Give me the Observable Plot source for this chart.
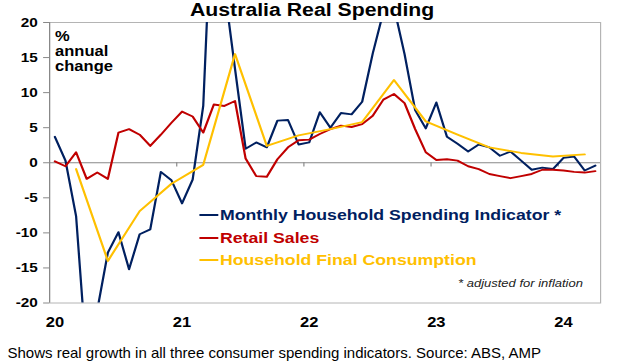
<!DOCTYPE html>
<html><head><meta charset="utf-8">
<script src="https://cdn.jsdelivr.net/npm/d3@7"></script>
<script src="https://cdn.jsdelivr.net/npm/@observablehq/plot@0.6"></script>
<style>
html,body{margin:0;padding:0;background:#fff;}
#page{position:relative;width:619px;height:364px;overflow:hidden;font-family:"Liberation Sans",Arial,sans-serif;}
#chart{position:absolute;left:0;top:0;width:525px;height:364px;transform:scaleX(1.18);transform-origin:0 0;}
#plot svg{position:absolute;left:0;top:0;}
.ov{position:absolute;white-space:nowrap;}
#title{left:0;width:529px;top:1px;text-align:center;font-weight:bold;font-size:18px;line-height:18px;color:#000;}
#ylab{left:46.7px;top:28.7px;font-weight:bold;font-size:14px;line-height:15px;color:#000;}
.row{position:absolute;left:168.6px;display:flex;align-items:center;font-weight:bold;font-size:15px;line-height:15px;white-space:nowrap;}
.sw{width:16.1px;height:2px;margin-right:1.7px;}
#foot{left:0;width:494px;top:278.4px;text-align:right;font-style:italic;font-size:11px;line-height:11px;color:#222;}
#caption{position:absolute;left:7.5px;top:345px;font-size:15px;line-height:15px;color:#000;white-space:nowrap;}
</style></head>
<body>
<div id="page">
  <div id="chart">
    <div id="plot"></div>
    <div id="title" class="ov"></div>
    <div id="ylab" class="ov"></div>
    <div id="legend"></div>
    <div id="foot" class="ov"></div>
  </div>
  <div id="caption"></div>
</div>
<script>
// Monthly series, Jan 2020 (index 0) to Apr 2024 (index 51)
const spending = [3.7, 0.3, -7.6, -28, -21, -12.8, -9.9, -15.2, -10.2, -9.5, -1.3, -2.5,
  -5.8, -2.4, 8.1, 43, 25, 13.4, 2.0, 2.9, 2.2, 6.0, 6.1, 2.6,
  2.9, 7.2, 5.0, 7.1, 6.9, 8.7, 15.6, 21.5, 22.2, 15.5, 7.5, 4.9,
  8.6, 3.7, 2.7, 1.6, 2.6, 2.2, 1.0, 1.6, 0.3, -1.0, -0.7, -0.9,
  0.7, 0.9, -1.1, -0.4];
const retail = [0.2, -0.5, 1.5, -2.3, -1.4, -2.3, 4.3, 4.8, 4.0, 2.4, 4.0, 5.7,
  7.3, 6.6, 4.3, 8.3, 8.1, 8.8, 0.6, -1.9, -2.0, 0.5, 2.2, 3.2,
  3.3, 4.1, 4.8, 5.3, 5.1, 5.5, 6.7, 9.0, 9.8, 8.5, 4.8, 1.5,
  0.4, 0.5, 0.3, -0.5, -0.9, -1.6, -1.9, -2.2, -1.9, -1.6, -1.0, -1.0,
  -1.1, -1.3, -1.4, -1.2];
// Quarterly series (quarter-end month index)
const hfceMonths = [2, 5, 8, 11, 14, 17, 20, 23, 26, 29, 32, 35, 38, 41, 44, 47, 50];
const hfce = [-0.9, -14.0, -6.9, -3.0, -0.3, 15.5, 2.4, 3.9, 4.8, 5.8, 11.8, 5.9, 4.0, 2.2, 1.4, 0.9, 1.2];

const yTicks = [-20, -15, -10, -5, 0, 5, 10, 15, 20];
const yearTickMonths = [0, 12, 24, 36, 48];
const yearLabels = ["20", "21", "22", "23", "24"];
const yearBoundaries = [11.5, 23.5, 35.5, 47.5];
const seriesNames = ["Monthly Household Spending Indicator *", "Retail Sales", "Household Final Consumption"];
const seriesColors = ["#002060", "#C00000", "#FFC000"];
const titleText = "Australia Real Spending";
const yLabelLines = ["%", "annual", "change"];
const footText = "* adjusted for inflation";
const captionText = "Shows real growth in all three consumer spending indicators. Source: ABS, AMP";

const S = 1.18, W = 525, H = 364;
const monthlySpend = spending.map((v, i) => ({m: i, v}));
const monthlyRetail = retail.map((v, i) => ({m: i, v}));
const quarterly = hfce.map((v, i) => ({m: hfceMonths[i], v}));

const chart = Plot.plot({
  width: W, height: H,
  marginLeft: 49 / S, marginRight: W - 600 / S, marginTop: 22, marginBottom: H - 302.5,
  x: {domain: [-0.5, 51.5], label: null},
  y: {domain: [-20, 20], label: null},
  style: {fontFamily: "'Liberation Sans', Arial, sans-serif", background: "transparent", color: "#000"},
  marks: [
    Plot.frame({stroke: "#b4b4b4"}),
    Plot.ruleY([0], {stroke: "#888"}),
    Plot.ruleX(yearBoundaries, {x: d => d, y1: 0, y2: -0.6, stroke: "#888"}),
    Plot.ruleX([-0.5], {stroke: "#888"}),
    Plot.axisY({ticks: yTicks, label: null, tickSize: 5, tickPadding: 5, tickFormat: d => String(d), fontSize: 13, fontWeight: "bold", stroke: "#888", fill: "#000"}),
    Plot.axisX({ticks: yearTickMonths, label: null, tickFormat: d => yearLabels[yearTickMonths.indexOf(d)], tickSize: 0, tickPadding: 14, fontSize: 14, fontWeight: "bold", fill: "#000"}),
    Plot.line(monthlySpend, {x: "m", y: "v", stroke: seriesColors[0], strokeWidth: 1.9, clip: true}),
    Plot.line(monthlyRetail, {x: "m", y: "v", stroke: seriesColors[1], strokeWidth: 1.9, clip: true}),
    Plot.line(quarterly, {x: "m", y: "v", stroke: seriesColors[2], strokeWidth: 1.9, clip: true})
  ]
});
document.getElementById("plot").append(chart);

document.getElementById("title").textContent = titleText;
document.getElementById("ylab").innerHTML = yLabelLines.join("<br>");
document.getElementById("foot").textContent = footText;
document.getElementById("caption").textContent = captionText;
const legendTops = [207, 230, 252];
const legend = document.getElementById("legend");
seriesNames.forEach((name, i) => {
  const row = document.createElement("div");
  row.className = "row";
  row.style.top = legendTops[i] + "px";
  row.style.color = seriesColors[i];
  const sw = document.createElement("span");
  sw.className = "sw";
  sw.style.background = seriesColors[i];
  const t = document.createElement("span");
  t.textContent = name;
  row.append(sw, t);
  legend.append(row);
});
</script>
</body></html>
